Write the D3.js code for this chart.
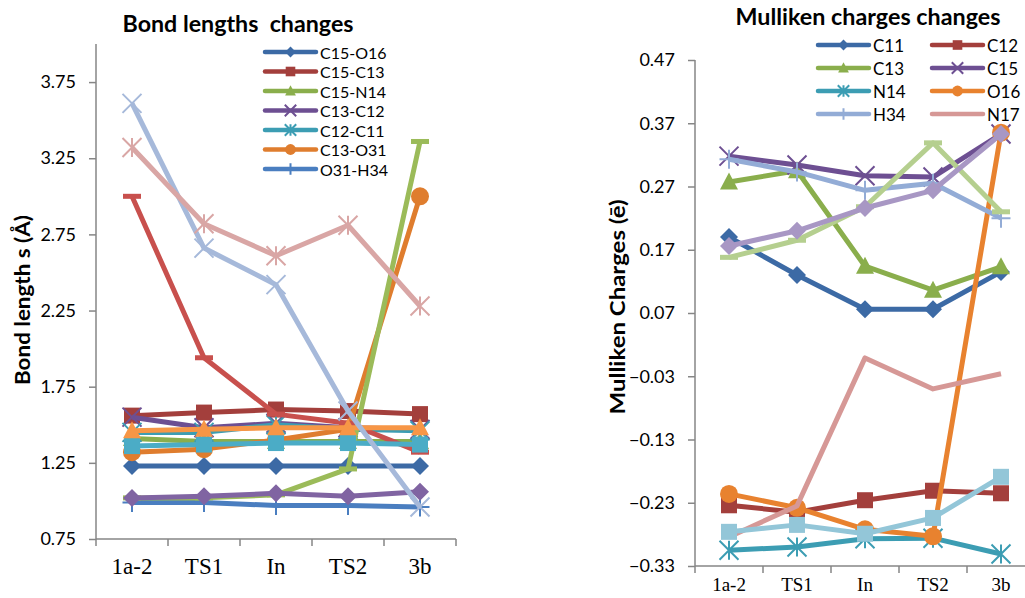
<!DOCTYPE html>
<html>
<head>
<meta charset="utf-8">
<script src="https://cdn.jsdelivr.net/npm/d3@7"></script>
<style>
  body { margin: 0; background: #fff; }
  svg { display: block; }
  .asse path, .asse line { stroke: #868686; stroke-width: 1.5; }
</style>
</head>
<body>
<script>
"use strict"
/* categorie comuni ai due grafici */
const categorie = ["1a-2", "TS1", "In", "TS2", "3b"];

/* grafico di sinistra: lunghezze di legame */
const nomiLegami = ["C15-O16", "C15-C13", "C15-N14", "C13-C12", "C12-C11", "C13-O31", "O31-H34",
    "s8", "s9", "s10", "s11", "s12", "s13", "s14"];
const valoriLegami = [
    [1.23, 1.23, 1.23, 1.23, 1.23],
    [1.56, 1.58, 1.60, 1.59, 1.57],
    [1.41, 1.39, 1.39, 1.39, 1.39],
    [1.55, 1.48, 1.51, 1.48, 1.47],
    [1.45, 1.45, 1.50, 1.47, 1.46],
    [1.32, 1.34, 1.40, 1.47, 3.00],
    [0.99, 0.99, 0.97, 0.97, 0.96],
    [3.00, 1.94, 1.57, 1.51, 1.32],
    [1.02, 1.02, 1.04, 1.21, 3.36],
    [1.02, 1.03, 1.05, 1.03, 1.06],
    [1.36, 1.37, 1.38, 1.38, 1.37],
    [1.46, 1.47, 1.48, 1.48, 1.48],
    [3.61, 2.66, 2.42, 1.59, 0.96],
    [3.32, 2.82, 2.61, 2.81, 2.28]
];
const tickLegami = [0.75, 1.25, 1.75, 2.25, 2.75, 3.25, 3.75];

/* grafico di destra: cariche di Mulliken */
const nomiCariche = ["C11", "C12", "C13", "C15", "N14", "O16", "H34", "N17", "s9", "s10", "s11"];
const valoriCariche = [
    [0.190, 0.130, 0.076, 0.076, 0.135],
    [-0.234, -0.245, -0.226, -0.211, -0.215],
    [0.277, 0.295, 0.144, 0.106, 0.143],
    [0.318, 0.304, 0.287, 0.285, 0.353],
    [-0.305, -0.300, -0.287, -0.286, -0.311],
    [-0.216, -0.238, -0.272, -0.283, 0.355],
    [0.313, 0.293, 0.264, 0.275, 0.220],
    [-0.284, -0.235, -0.001, -0.050, -0.026],
    [0.158, 0.185, 0.238, 0.339, 0.230],
    [0.176, 0.200, 0.236, 0.264, 0.353],
    [-0.276, -0.265, -0.279, -0.254, -0.189]
];
const tickCariche = [-0.33, -0.23, -0.13, -0.03, 0.07, 0.17, 0.27, 0.37, 0.47];

/* colori e marcatori (stile Excel) */
const coloriLegami = ["#3c6aa5", "#a33f3c", "#8aae4c", "#6d4f92", "#3c9db3", "#df7d2e", "#4a7ec0",
    "#c8504d", "#9bbb59", "#8064a2", "#4bacc6", "#f79646", "#a6b9da", "#d9a6a5"];
const marcatoriLegami = ["diamond", "square", "triangle", "x", "star", "circle", "plus",
    "dash", "dash", "diamond", "square", "triangle", "x", "star"];
const coloriCariche = ["#3c6aa5", "#a33f3c", "#8aae4c", "#6d4f92", "#3c9db3", "#e8822f", "#93acd6",
    "#d69896", "#b5cf8f", "#a897c4", "#93c6d8"];
const marcatoriCariche = ["diamond", "square", "triangle", "x", "star", "circle", "plus",
    "none", "dash", "diamond", "square"];

const font = "Lato, 'Open Sans', sans-serif";
const svg = d3.select("body").append("svg")
    .attr("width", 1025).attr("height", 598);

/* disegna un marcatore centrato in (0,0), s = fattore di scala */
function disegnaMarcatore(g, tipo, colore, s) {
    if (tipo == "diamond")
        g.append("path").attr("d", `M0,${-9 * s}L${9 * s},0L0,${9 * s}L${-9 * s},0Z`).attr("fill", colore);
    else if (tipo == "square")
        g.append("rect").attr("x", -8 * s).attr("y", -8 * s).attr("width", 16 * s).attr("height", 16 * s).attr("fill", colore);
    else if (tipo == "triangle")
        g.append("path").attr("d", `M0,${-9.5 * s}L${9 * s},${7.5 * s}L${-9 * s},${7.5 * s}Z`).attr("fill", colore);
    else if (tipo == "circle")
        g.append("circle").attr("r", 9 * s).attr("fill", colore);
    else if (tipo == "dash")
        g.append("rect").attr("x", -9 * s).attr("y", -2.5).attr("width", 18 * s).attr("height", 5).attr("fill", colore);
    else if (tipo != "none") {
        const r = 9.5 * s;
        let d = "";
        if (tipo == "x" || tipo == "star") d += `M${-r},${-r}L${r},${r}M${-r},${r}L${r},${-r}`;
        if (tipo == "star") d += `M0,${-r}L0,${r}`;
        if (tipo == "plus") d += `M0,${-r}L0,${r}M${-r},0L${r},0`;
        g.append("path").attr("d", d).attr("stroke", colore).attr("stroke-width", 2).attr("fill", "none");
    }
}

function grafico(opz) {
    const x = d3.scaleBand().domain(categorie).range([opz.x0, opz.x1]);
    const y = d3.scaleLinear().domain(opz.dominio).range([opz.y0, opz.y1]);
    const g = svg.append("g");

    /* asse verticale */
    const asseY = d3.axisLeft(y).tickValues(opz.tick).tickSizeOuter(0).tickSize(7).tickPadding(opz.padY)
        .tickFormat(d3.format(".2f"));
    const gy = g.append("g").attr("class", "asse").attr("transform", `translate(${opz.x0},0)`);
    asseY(gy);
    gy.select(".domain").attr("d", `M0,${opz.y1}V${opz.y0}`);
    gy.selectAll("text").attr("font-family", font).attr("font-size", 18).attr("fill", "#000");

    /* asse orizzontale: tacche sui bordi delle bande, etichette al centro */
    const asseX = d3.axisBottom(x).tickSize(0).tickPadding(opz.padX);
    const gx = g.append("g").attr("class", "asse").attr("transform", `translate(0,${opz.y0})`);
    asseX(gx);
    gx.select(".domain").attr("d", `M${opz.x0},0H${opz.x1}`);
    gx.selectAll("text").attr("font-family", "'Liberation Serif', 'Times New Roman', serif")
        .attr("font-size", opz.fontX).attr("fill", "#000");
    const bordi = categorie.map(c => x(c)).concat([x(categorie[categorie.length - 1]) + x.bandwidth()]);
    gx.selectAll("line.bordo").data(bordi).enter().append("line").attr("class", "bordo")
        .attr("x1", d => d).attr("x2", d => d).attr("y1", 0).attr("y2", 7);

    /* linee e marcatori */
    const linea = d3.line().x((d, i) => x(categorie[i]) + x.bandwidth() / 2).y(d => y(d));
    opz.valori.forEach(function (serie, k) {
        g.append("path").attr("d", linea(serie)).attr("fill", "none")
            .attr("stroke", opz.colori[k]).attr("stroke-width", 5).attr("stroke-linejoin", "round");
        serie.forEach(function (v, i) {
            const m = g.append("g")
                .attr("transform", `translate(${x(categorie[i]) + x.bandwidth() / 2},${y(v)})`);
            disegnaMarcatore(m, opz.marcatori[k], opz.colori[k], 1);
        });
    });

    /* titolo e etichetta asse */
    g.append("text").attr("x", opz.titoloX).attr("y", opz.titoloY).attr("text-anchor", "middle")
        .attr("font-family", font).attr("font-weight", "bold").attr("font-size", 22)
        .attr("textLength", opz.titoloL).attr("lengthAdjust", "spacingAndGlyphs")
        .text(opz.titolo);
    g.append("text").attr("transform", `translate(${opz.etichettaX},${opz.etichettaY}) rotate(-90)`)
        .attr("text-anchor", "middle").attr("dominant-baseline", "middle")
        .attr("font-family", font).attr("font-weight", "bold").attr("font-size", 20)
        .attr("textLength", opz.etichettaL).attr("lengthAdjust", "spacingAndGlyphs")
        .text(opz.etichetta);

    /* legenda */
    opz.legenda.forEach(function (voce) {
        const k = voce.k;
        const gl = g.append("g").attr("transform", `translate(${voce.x},${voce.y})`);
        gl.append("line").attr("x1", 0).attr("x2", 51).attr("stroke", opz.colori[k])
            .attr("stroke-width", 4.5).attr("stroke-linecap", "round");
        const m = gl.append("g").attr("transform", "translate(25.5,0)");
        disegnaMarcatore(m, opz.marcatori[k], opz.colori[k], 0.6);
        gl.append("text").attr("x", 55).attr("y", 0).attr("dominant-baseline", "central")
            .attr("font-family", font).attr("font-size", opz.fontLegenda)
            .text(opz.nomi[k]);
    });
}

grafico({
    x0: 96, x1: 456, y0: 539, y1: 44, dominio: [0.75, 4.0], tick: tickLegami,
    padY: 13, padX: 19, fontX: 23,
    valori: valoriLegami, colori: coloriLegami, marcatori: marcatoriLegami, nomi: nomiLegami,
    titolo: "Bond lengths\u00a0 changes", titoloX: 238, titoloY: 32, titoloL: 231,
    etichetta: "Bond length s (Å)", etichettaX: 25, etichettaY: 300, etichettaL: 170,
    fontLegenda: 16,
    legenda: [0, 1, 2, 3, 4, 5, 6].map((k, i) => ({ k: k, x: 265, y: 52 + i * 19.5 }))
});

grafico({
    x0: 695, x1: 1035, y0: 566, y1: 60, dominio: [-0.33, 0.47], tick: tickCariche,
    padY: 13, padX: 12, fontX: 19,
    valori: valoriCariche, colori: coloriCariche, marcatori: marcatoriCariche, nomi: nomiCariche,
    titolo: "Mulliken charges changes", titoloX: 868, titoloY: 25, titoloL: 265,
    etichetta: "Mulliken Charges (ē)", etichettaX: 620, etichettaY: 307, etichettaL: 215,
    fontLegenda: 17,
    legenda: [0, 1, 2, 3, 4, 5, 6, 7].map((k, i) => ({ k: k, x: i % 2 == 0 ? 818 : 932, y: 45 + Math.floor(i / 2) * 23 }))
});
</script>
</body>
</html>
